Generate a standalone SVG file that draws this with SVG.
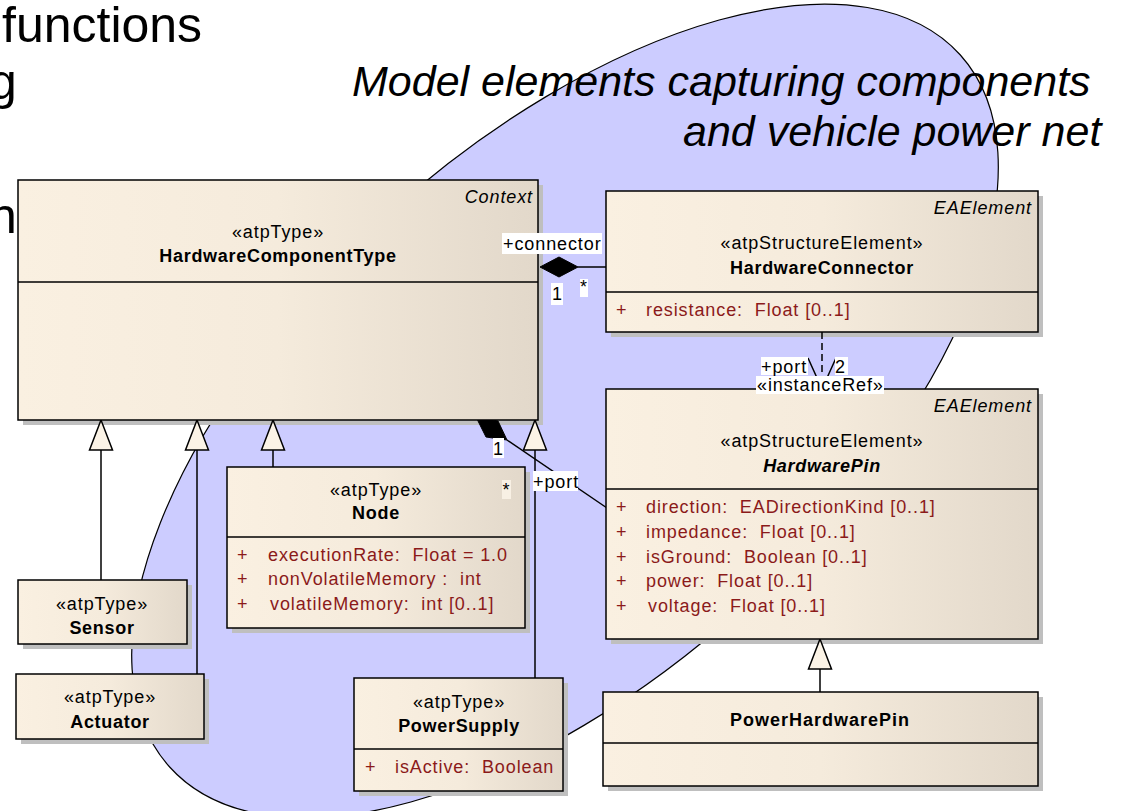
<svg xmlns="http://www.w3.org/2000/svg" width="1122" height="811" viewBox="0 0 1122 811">
  <defs>
    <linearGradient id="cream" x1="0" y1="0" x2="1" y2="0">
      <stop offset="0" stop-color="#FAF0E1"/>
      <stop offset="0.5" stop-color="#F5EBDC"/>
      <stop offset="1" stop-color="#E2D8CA"/>
    </linearGradient>
  </defs>
  <style>
    .slide { font-family: "Liberation Sans", Arial, sans-serif; font-size: 50px; fill: #000; }
    .title { font-family: "Liberation Sans", Arial, sans-serif; font-size: 43px; font-style: italic; fill: #000; }
    .shadow { fill: #BFBFBF; }
    .box { fill: url(#cream); stroke: #000; stroke-width: 1.5; }
    .div { stroke: #000; stroke-width: 1.5; }
    .t { font-family: "Liberation Sans", Arial, sans-serif; font-size: 18px; letter-spacing: 0.9px; fill: #000; white-space: pre; }
    .c { text-anchor: middle; }
    .b { font-weight: bold; letter-spacing: 0.7px; }
    .i { font-style: italic; text-anchor: end; }
    .a { fill: #8B1A1A; }
    .line { stroke: #000; stroke-width: 1.5; fill: none; }
    .dash { stroke: #000; stroke-width: 1.5; fill: none; stroke-dasharray: 7 4; }
    .gen { fill: #FBF3E6; stroke: #000; stroke-width: 1.5; }
    .comp { fill: #000; stroke: #000; stroke-width: 1; }
    .lbg { fill: #FFFFFF; }
  </style>

  <rect x="0" y="0" width="1122" height="811" fill="#FFFFFF"/>

  <!-- slide text running off the left edge -->
  <text class="slide" x="2" y="42">functions</text>
  <text class="slide" x="-11" y="99">g</text>
  <text class="slide" x="-11" y="233">n</text>

  <!-- highlighted area -->
  <ellipse cx="565" cy="411" rx="532" ry="265" transform="rotate(-42 565 411)" fill="#CCCCFF" stroke="#000" stroke-width="1.2"/>

  <text class="title" x="352" y="96">Model elements capturing components</text>
  <text class="title" x="683" y="146">and vehicle power net</text>

  <!-- drop shadows -->
  <g id="shadows">
    <rect class="shadow" x="23" y="185" width="520" height="240"/>
    <rect class="shadow" x="611" y="196" width="432" height="141"/>
    <rect class="shadow" x="611" y="394" width="432" height="250"/>
    <rect class="shadow" x="608" y="697" width="435" height="94"/>
    <rect class="shadow" x="232" y="472" width="298" height="161"/>
    <rect class="shadow" x="23" y="585" width="169" height="64"/>
    <rect class="shadow" x="21" y="679" width="188" height="65"/>
    <rect class="shadow" x="359" y="683" width="209" height="113"/>
  </g>

  <!-- connectors -->
  <g id="connectors">
    <!-- generalizations -->
    <line class="line" x1="101" y1="450" x2="101" y2="580"/>
    <polygon class="gen" points="101,420 89.5,450 112.5,450"/>
    <line class="line" x1="197" y1="450" x2="197" y2="674"/>
    <polygon class="gen" points="197,420 185.5,450 208.5,450"/>
    <line class="line" x1="273" y1="450" x2="273" y2="467"/>
    <polygon class="gen" points="273,420 261.5,450 284.5,450"/>
    <line class="line" x1="535" y1="450" x2="535" y2="678"/>
    <polygon class="gen" points="535,420 523.5,450 546.5,450"/>
    <line class="line" x1="820" y1="669" x2="820" y2="692"/>
    <polygon class="gen" points="820,639 808.5,669 831.5,669"/>

    <!-- composition HardwareComponentType - HardwareConnector -->
    <line class="line" x1="578" y1="267" x2="606" y2="267"/>
    <polygon class="comp" points="540,267 559,257 578,267 559,277"/>

    <!-- composition HardwareComponentType - HardwarePin -->
    <line class="line" x1="507" y1="440" x2="607" y2="508"/>
    <polygon class="comp" points="476,417 498,421 507,440 486,437"/>

    <!-- instanceRef dependency -->
    <line class="dash" x1="822" y1="332" x2="822" y2="389"/>
    <polyline class="line" points="808,358 822,389 836,358"/>
  </g>

  <!-- HardwareComponentType -->
  <g id="HardwareComponentType">
    <rect class="box" x="18" y="180" width="520" height="240"/>
    <line class="div" x1="18" y1="282" x2="538" y2="282"/>
    <text class="t i" x="533" y="203">Context</text>
    <text class="t c" x="278" y="238">«atpType»</text>
    <text class="t c b" x="278" y="262">HardwareComponentType</text>
  </g>

  <!-- HardwareConnector -->
  <g id="HardwareConnector">
    <rect class="box" x="606" y="191" width="432" height="141"/>
    <line class="div" x1="606" y1="292" x2="1038" y2="292"/>
    <text class="t i" x="1032" y="214">EAElement</text>
    <text class="t c" x="822" y="249">«atpStructureElement»</text>
    <text class="t c b" x="822" y="274">HardwareConnector</text>
    <text class="t a" x="616" y="316">+</text>
    <text class="t a" x="646" y="316">resistance:  Float [0..1]</text>
  </g>

  <!-- HardwarePin -->
  <g id="HardwarePin">
    <rect class="box" x="606" y="389" width="432" height="250"/>
    <line class="div" x1="606" y1="489" x2="1038" y2="489"/>
    <text class="t i" x="1032" y="412">EAElement</text>
    <text class="t c" x="822" y="447">«atpStructureElement»</text>
    <text class="t c b" x="822" y="472" font-style="italic">HardwarePin</text>
    <text class="t a" x="616" y="513">+</text>
    <text class="t a" x="646" y="513">direction:  EADirectionKind [0..1]</text>
    <text class="t a" x="616" y="538">+</text>
    <text class="t a" x="646" y="538">impedance:  Float [0..1]</text>
    <text class="t a" x="616" y="563">+</text>
    <text class="t a" x="646" y="563">isGround:  Boolean [0..1]</text>
    <text class="t a" x="616" y="587">+</text>
    <text class="t a" x="646" y="587">power:  Float [0..1]</text>
    <text class="t a" x="616" y="612">+</text>
    <text class="t a" x="648" y="612">voltage:  Float [0..1]</text>
  </g>

  <!-- PowerHardwarePin -->
  <g id="PowerHardwarePin">
    <rect class="box" x="603" y="692" width="435" height="94"/>
    <line class="div" x1="603" y1="743" x2="1038" y2="743"/>
    <text class="t c b" x="820" y="726" style="letter-spacing:1px">PowerHardwarePin</text>
  </g>

  <!-- Node -->
  <g id="Node">
    <rect class="box" x="227" y="467" width="298" height="161"/>
    <line class="div" x1="227" y1="537" x2="525" y2="537"/>
    <text class="t c" x="376" y="496">«atpType»</text>
    <text class="t c b" x="376" y="519">Node</text>
    <text class="t a" x="237" y="561">+</text>
    <text class="t a" x="268" y="561">executionRate:  Float = 1.0</text>
    <text class="t a" x="237" y="585">+</text>
    <text class="t a" x="268" y="585">nonVolatileMemory :  int</text>
    <text class="t a" x="237" y="610">+</text>
    <text class="t a" x="270" y="610">volatileMemory:  int [0..1]</text>
  </g>

  <!-- Sensor -->
  <g id="Sensor">
    <rect class="box" x="18" y="580" width="169" height="64"/>
    <text class="t c" x="102" y="610">«atpType»</text>
    <text class="t c b" x="102" y="634">Sensor</text>
  </g>

  <!-- Actuator -->
  <g id="Actuator">
    <rect class="box" x="16" y="674" width="188" height="65"/>
    <text class="t c" x="110" y="703">«atpType»</text>
    <text class="t c b" x="110" y="728">Actuator</text>
  </g>

  <!-- PowerSupply -->
  <g id="PowerSupply">
    <rect class="box" x="354" y="678" width="209" height="113"/>
    <line class="div" x1="354" y1="749" x2="563" y2="749"/>
    <text class="t c" x="459" y="708">«atpType»</text>
    <text class="t c b" x="459" y="732">PowerSupply</text>
    <text class="t a" x="365" y="773">+</text>
    <text class="t a" x="395" y="773">isActive:  Boolean</text>
  </g>

  <!-- connector end labels -->
  <g id="connector-labels">
    <rect class="lbg" x="502" y="233" width="100" height="21"/>
    <text class="t" x="503" y="250">+connector</text>
    <rect class="lbg" x="551" y="283" width="12" height="22"/>
    <text class="t" x="552" y="300">1</text>
    <rect class="lbg" x="580" y="279" width="8" height="18"/>
    <text class="t" x="580" y="293">*</text>

    <rect class="lbg" x="493" y="438" width="11" height="20"/>
    <text class="t" x="493" y="455">1</text>
    <rect class="lbg" x="533" y="471" width="45" height="20"/>
    <text class="t" x="533" y="488">+port</text>
    <rect x="502" y="480" width="9" height="19" fill="#F8F0E4"/>
    <text class="t" x="502.5" y="496">*</text>

    <rect class="lbg" x="761" y="357" width="47" height="18"/>
    <text class="t" x="761" y="373">+port</text>
    <rect class="lbg" x="835" y="357" width="13" height="18"/>
    <text class="t" x="835" y="373">2</text>
    <rect class="lbg" x="756" y="376" width="128" height="18"/>
    <text class="t" x="757" y="391">«instanceRef»</text>
  </g>
</svg>
